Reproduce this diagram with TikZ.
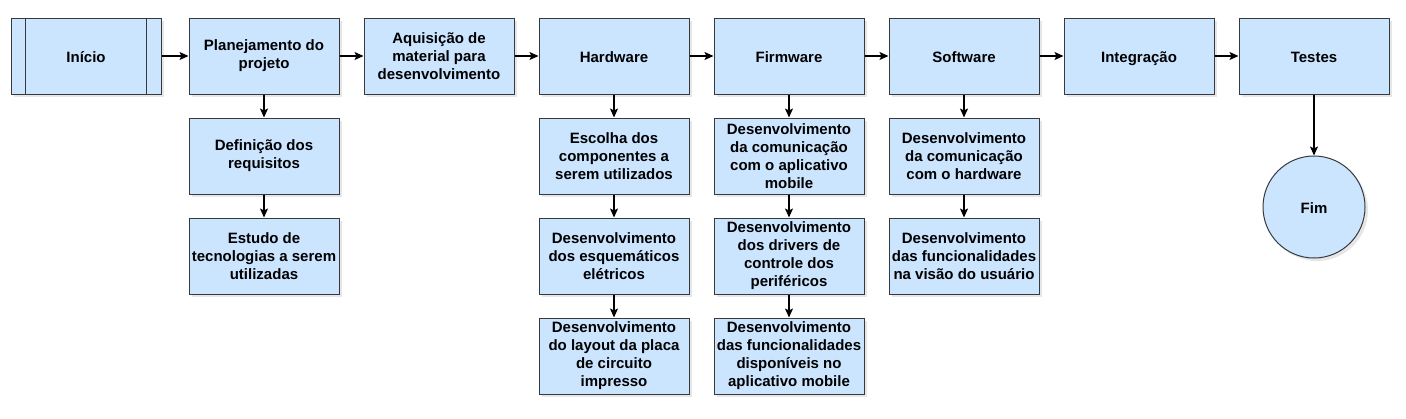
\documentclass[tikz,border=0pt]{standalone}
\usepackage{fontspec}
\setmainfont{Liberation Sans}
\usetikzlibrary{arrows.meta,shadows}
\definecolor{boxfill}{HTML}{CCE5FF}
\definecolor{boxline}{HTML}{36393D}

\begin{document}
\begin{tikzpicture}[x=1pt,y=-1pt,->,>={Stealth[length=9pt,width=8pt,inset=2pt]},line width=1.3pt,
		font=\fontsize{15}{18}\selectfont\bfseries]
		\tikzstyle{etapa}=[rectangle,draw=boxline,fill=boxfill,line width=1pt,minimum width=150pt,minimum height=76pt,
			align=center,inner sep=0pt,drop shadow={shadow xshift=3pt,shadow yshift=-3pt,opacity=0.2}]
		\tikzstyle{linha}=[text height=13.5pt,text depth=1pt]
		\tikzstyle{fim}=[etapa,linha,circle,minimum size=102pt]
		
		\useasboundingbox (0,0) rectangle (1406,418);
		
		% linha principal
		\node[etapa,linha] (inicio) at (86,56) {Início};
		\node[etapa] (plan) at (264,56) {Planejamento do\\projeto};
		\node[etapa] (aquis) at (439,56) {Aquisição de\\material para\\desenvolvimento};
		\node[etapa,linha] (hw) at (614,56) {Hardware};
		\node[etapa,linha] (fw) at (789,56) {Firmware};
		\node[etapa,linha] (sw) at (964,56) {Software};
		\node[etapa,linha] (integ) at (1139,56) {Integração};
		\node[etapa,linha] (testes) at (1314,56) {Testes};
		\node[fim] (fim) at (1314,207) {Fim};
		\draw[-,draw=boxline,line width=1pt] ([xshift=15pt]inicio.north west) -- ([xshift=15pt]inicio.south west);
		\draw[-,draw=boxline,line width=1pt] ([xshift=-15pt]inicio.north east) -- ([xshift=-15pt]inicio.south east);
		
		% planejamento
		\node[etapa] (req) at (264,156) {Definição dos\\requisitos};
		\node[etapa] (tec) at (264,256) {Estudo de\\tecnologias a serem\\utilizadas};
		
		% hardware
		\node[etapa] (comp) at (614,156) {Escolha dos\\componentes a\\serem utilizados};
		\node[etapa] (esq) at (614,256) {Desenvolvimento\\dos esquemáticos\\elétricos};
		\node[etapa] (pcb) at (614,356) {Desenvolvimento\\do layout da placa\\de circuito\\impresso};
		
		% firmware
		\node[etapa] (fwcom) at (789,156) {Desenvolvimento\\da comunicação\\com o aplicativo\\mobile};
		\node[etapa] (drv) at (789,256) {Desenvolvimento\\dos drivers de\\controle dos\\periféricos};
		\node[etapa] (func) at (789,356) {Desenvolvimento\\das funcionalidades\\disponíveis no\\aplicativo mobile};
		
		% software
		\node[etapa] (swcom) at (964,156) {Desenvolvimento\\da comunicação\\com o hardware};
		\node[etapa] (usr) at (964,256) {Desenvolvimento\\das funcionalidades\\na visão do usuário};
		
		\draw (inicio) -- (plan);
		\draw (plan) -- (aquis);
		\draw (aquis) -- (hw);
		\draw (hw) -- (fw);
		\draw (fw) -- (sw);
		\draw (sw) -- (integ);
		\draw (integ) -- (testes);
		\draw (testes) -- (fim);
		
		\draw (plan) -- (req);
		\draw (req) -- (tec);
		\draw (hw) -- (comp);
		\draw (comp) -- (esq);
		\draw (esq) -- (pcb);
		\draw (fw) -- (fwcom);
		\draw (fwcom) -- (drv);
		\draw (drv) -- (func);
		\draw (sw) -- (swcom);
		\draw (swcom) -- (usr);
\end{tikzpicture}
\end{document}
